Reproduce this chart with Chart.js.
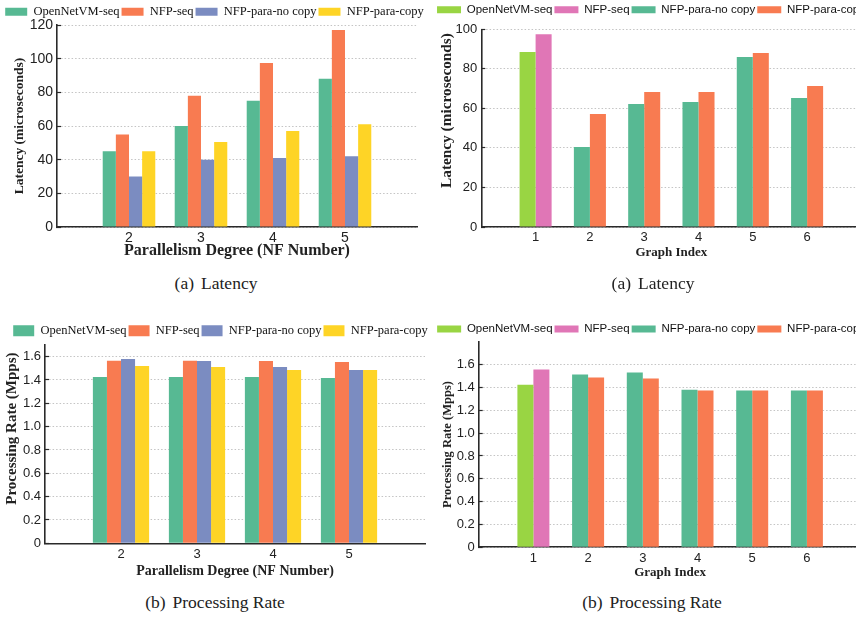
<!DOCTYPE html>
<html><head><meta charset="utf-8">
<script src="https://cdn.jsdelivr.net/npm/chart.js@4.4.0/dist/chart.umd.min.js"></script>
<style>
html,body{margin:0;padding:0;background:#fff;width:856px;height:617px;overflow:hidden;position:relative}
canvas{position:absolute}
.cap{position:absolute;font-family:"Liberation Serif",serif;font-size:17.5px;color:#222;white-space:nowrap;transform:translate(-50%,-50%)}
.cap span{margin-right:7px}
</style></head><body>
<canvas id="cA" width="430" height="270" style="left:0;top:0"></canvas>
<canvas id="cB" width="446" height="270" style="left:428px;top:0"></canvas>
<canvas id="cC" width="430" height="270" style="left:0;top:310px"></canvas>
<canvas id="cD" width="446" height="270" style="left:428px;top:310px"></canvas>
<div class="cap" style="left:216px;top:283px"><span>(a)</span>Latency</div>
<div class="cap" style="left:653px;top:283px"><span>(a)</span>Latency</div>
<div class="cap" style="left:215px;top:602px"><span>(b)</span>Processing Rate</div>
<div class="cap" style="left:652px;top:602px"><span>(b)</span>Processing Rate</div>
<script>
// ---- data ----
const seriesNames = ['OpenNetVM-seq', 'NFP-seq', 'NFP-para-no copy', 'NFP-para-copy'];
const degreeCats = ['2', '3', '4', '5'];
const graphCats = ['1', '2', '3', '4', '5', '6'];

const latDegOnvm   = [45, 60, 75, 88];
const latDegNfpSeq = [55, 78, 97.5, 117];
const latDegNoCopy = [30, 40, 41, 42];
const latDegCopy   = [45, 50.5, 57, 61];

const latGraphOnvm   = [88.5, null, null, null, null, null];
const latGraphNfpSeq = [97.5, null, null, null, null, null];
const latGraphNoCopy = [null, 40.5, 62.2, 63.2, 86, 65.3];
const latGraphCopy   = [null, 57.2, 68.3, 68.3, 88, 71.3];

const rateDegOnvm   = [1.426, 1.426, 1.426, 1.417];
const rateDegNfpSeq = [1.566, 1.566, 1.563, 1.554];
const rateDegNoCopy = [1.58, 1.563, 1.511, 1.486];
const rateDegCopy   = [1.52, 1.511, 1.486, 1.486];

const rateGraphOnvm   = [1.424, null, null, null, null, null];
const rateGraphNfpSeq = [1.556, null, null, null, null, null];
const rateGraphNoCopy = [null, 1.512, 1.53, 1.38, 1.372, 1.372];
const rateGraphCopy   = [null, 1.486, 1.477, 1.372, 1.372, 1.372];

const latencyTicksA = {max: 120, step: 20};
const latencyTicksB = {max: 100, step: 20};
const rateTicksC = {max: 1.7, step: 0.2, top: 1.6};
const rateTicksD = {max: 1.8, step: 0.2, top: 1.6};

// ---- styling ----
const colsA = ['#57b993', '#f87b51', '#7b8cc1', '#fed426'];
const colsB = ['#99d543', '#e076b6', '#57b993', '#f87b51'];
const SERIF = '"Liberation Serif", "Times New Roman", serif';
const SANS = '"Liberation Sans", Arial, sans-serif';

// keeps the legend on one centred row with a fixed height
const legendHeightPlugin = {
  id: 'legendHeight',
  beforeLayout(chart, args, opts) {
    const lg = chart.legend;
    if (lg && !lg._fixedH) {
      const origFit = lg.fit.bind(lg);
      lg.fit = function () {
        const mw = this.maxWidth;
        this.maxWidth = 5000;
        origFit();
        this.maxWidth = mw;
        this.width = mw;
        this.height = opts.height;
      };
      lg.draw = function () {
        if (!this.options.display) return;
        const l = this.left, r = this.right, w = this.width, e = 300;
        this.left = l - e; this.right = r + e; this.width = w + 2 * e;
        this._draw();
        this.left = l; this.right = r; this.width = w;
      };
      lg._fixedH = true;
    }
  }
};

function pad(arr) { return [null, ...arr, null]; }

function makeChart(id, s) {
  const labels = ['', ...s.cats, ''];
  const datasets = s.series.map((d, i) => ({
    label: seriesNames[i],
    data: pad(d),
    backgroundColor: s.colors[i],
    borderWidth: 0,
    categoryPercentage: s.cp,
    barPercentage: 1.0,
    skipNull: true
  }));
  return new Chart(document.getElementById(id), {
    type: 'bar',
    data: {labels, datasets},
    options: {
      responsive: false,
      animation: false,
      devicePixelRatio: 1,
      events: [],
      layout: {padding: s.pad},
      plugins: {
        legendHeight: {height: s.legendH},
        tooltip: {enabled: false},
        legend: {
          position: 'top', align: 'center',
          labels: {
            boxWidth: s.box[0], boxHeight: s.box[1], padding: s.legendPad,
            color: '#111', font: {family: s.legendFamily, size: s.legendSize}
          }
        }
      },
      scales: {
        x: {
          type: 'category', offset: false,
          grid: {display: false, drawTicks: false},
          border: {display: true, color: '#2a2a2a', width: 1.6},
          ticks: {font: {family: SANS, size: s.tickSize}, color: '#222', padding: s.xTickPad, maxRotation: 0, autoSkip: false},
          title: {display: true, text: s.xTitle, color: '#222', padding: {top: 0, bottom: s.xTitlePad},
                  font: {family: SERIF, weight: 'bold', size: s.xTitleSize}},
          afterFit(sc) { sc.height = s.xH; }
        },
        y: {
          min: 0, max: s.ticks.max,
          ticks: {stepSize: s.ticks.step, includeBounds: false, font: {family: SANS, size: s.tickSize}, color: '#222', padding: 8},
          afterBuildTicks(sc) {
            if (s.ticks.top !== undefined) sc.ticks = sc.ticks.filter(t => t.value <= s.ticks.top + 1e-9);
          },
          grid: {color: '#c4c4c4', lineWidth: 1, drawTicks: true, tickLength: -4, tickColor: '#2a2a2a', tickWidth: 1.2, tickBorderDash: []},
          border: {display: true, color: '#2a2a2a', width: 1.6, dash: [1.5, 2]},
          title: {display: true, text: s.yTitle, align: s.yAlign, color: '#222', padding: {top: s.yTitlePad, bottom: 0},
                  font: {family: SERIF, weight: 'bold', size: s.yTitleSize}},
          afterFit(sc) { sc.width = s.yW; }
        }
      }
    },
    plugins: [legendHeightPlugin]
  });
}

makeChart('cA', {
  cats: degreeCats, series: [latDegOnvm, latDegNfpSeq, latDegNoCopy, latDegCopy], colors: colsA,
  cp: 0.73, pad: {left: 12, right: 13, top: 3.5, bottom: 10}, legendH: 21.5,
  box: [22, 8], legendPad: 2, legendFamily: SERIF, legendSize: 12.5,
  tickSize: 14, xTickPad: 3, xTitle: 'Parallelism Degree (NF Number)', xTitleSize: 16, xTitlePad: 0,
  yTitle: 'Latency (microseconds)', yAlign: 'center', yTitleSize: 13.5, yTitlePad: -1, yW: 45, xH: 33, ticks: latencyTicksA
});

makeChart('cB', {
  cats: graphCats, series: [latGraphOnvm, latGraphNfpSeq, latGraphNoCopy, latGraphCopy], colors: colsB,
  cp: 0.59, pad: {left: 12.6, right: 12.6, top: 2, bottom: 11.2}, legendH: 27.3,
  box: [24, 7], legendPad: 2, legendFamily: SANS, legendSize: 11.5,
  tickSize: 13, xTickPad: 3, xTitle: 'Graph Index', xTitleSize: 13, xTitlePad: -1.5,
  yTitle: 'Latency (microseconds) ', yAlign: 'end', yTitleSize: 15.3, yTitlePad: -3, yW: 40.7, xH: 31.8, ticks: latencyTicksB
});

makeChart('cC', {
  cats: degreeCats, series: [rateDegOnvm, rateDegNfpSeq, rateDegNoCopy, rateDegCopy], colors: colsA,
  cp: 0.74, pad: {left: 16, right: 5, top: 12.5, bottom: 1.6}, legendH: 22.5,
  box: [21, 11], legendPad: 2, legendFamily: SERIF, legendSize: 12.5,
  tickSize: 13, xTickPad: 3, xTitle: 'Parallelism Degree (NF Number)', xTitleSize: 14, xTitlePad: -1,
  yTitle: 'Processing Rate (Mpps)  ', yAlign: 'end', yTitleSize: 15, yTitlePad: -13, yW: 29, xH: 35.1, ticks: rateTicksC
});

makeChart('cD', {
  cats: graphCats, series: [rateGraphOnvm, rateGraphNfpSeq, rateGraphNoCopy, rateGraphCopy], colors: colsB,
  cp: 0.585, pad: {left: 12.6, right: 12.4, top: 11.25, bottom: 0.2}, legendH: 20.45,
  box: [24, 7], legendPad: 2, legendFamily: SANS, legendSize: 11.5,
  tickSize: 13, xTickPad: 3, xTitle: 'Graph Index', xTitleSize: 13, xTitlePad: -1,
  yTitle: 'Processing Rate (Mpps)', yAlign: 'center', yTitleSize: 12.5, yTitlePad: -0.1, yW: 38.1, xH: 32.5, ticks: rateTicksD
});
</script>
</body></html>
